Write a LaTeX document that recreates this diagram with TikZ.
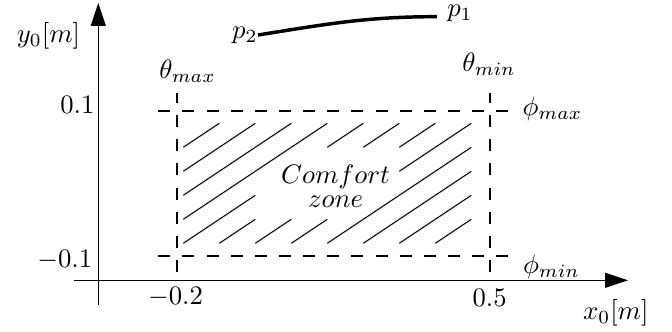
\documentclass[tikz,border=0pt]{standalone}
\usetikzlibrary{arrows.meta}
\begin{document}
\begin{tikzpicture}[x=0.375pt,y=0.375pt,
	asse/.style={line width=0.4pt, -{Triangle[length=8.6pt,width=5.6pt]}},
	limite/.style={line width=0.8pt, dash pattern=on 4.5pt off 4.55pt},
	tratteggio/.style={line width=0.4pt},
	etichetta/.style={inner sep=0pt}]

	\useasboundingbox (0,0) rectangle (672,332);

	% Assi
	\draw[asse] (74,51.7) -- (628,51.7);
	\draw[asse] (98.3,27) -- (98.3,329);
	\node[etichetta] (xlab) at (615.8,19.2) {$x_0[m]$};
	\node[etichetta] (ylab) at (48.5,296.2) {$y_0[m]$};
	\node[etichetta] (xmin) at (175.5,34.8) {$-0.2$};
	\node[etichetta] (xmax) at (489.6,34.3) {$0.5$};
	\node[etichetta, anchor=east] (ymax) at (95,227.5) {$0.1$};
	\node[etichetta, anchor=east] (ymin) at (92.7,71.5) {$-0.1$};

	% Limiti della zona
	\draw[limite] (176.7,60) -- (176.7,239);
	\draw[limite] (490,60) -- (490,239);
	\draw[limite] (158.3,76.3) -- (508,76.3);
	\draw[limite] (158.3,221.3) -- (508,221.3);
	\node[etichetta] (thmax) at (187.5,261) {$\theta_{max}$};
	\node[etichetta] (thmin) at (489,268) {$\theta_{min}$};
	\node[etichetta] (phmax) at (552.5,223) {$\phi_{max}$};
	\node[etichetta] (phmin) at (551.5,65.5) {$\phi_{min}$};

	% Zona di comfort (celle vuote sotto il testo)
	\foreach \i in {0,...,7}{
		\foreach \j in {0,...,4}{
			\pgfmathtruncatemacro{\vuota}{(\j==1 && \i>1 && \i<5) || (\j==2 && \i>1 && \i<6) || (\j==3 && \i>2 && \i<6)}
			\ifnum\vuota=0
				\draw[tratteggio] (183.3+36*\i, 88.7+24*\j) -- ++(36,24);
			\fi
		}
	}
	\node[etichetta, align=center] (zona) at (335.5,145.4) {$Comfort$\\[-3.1pt]$zone$};

	% Traiettoria
	\node[etichetta, anchor=east] (p2) at (258,297) {$p_2$};
	\node[etichetta] (p1) at (460,318.5) {$p_1$};
	\draw[line width=1.3pt] (p2.east) to[out=9,in=180] ([shift={(-10,-3.2)}]p1.west);
\end{tikzpicture}
\end{document}
